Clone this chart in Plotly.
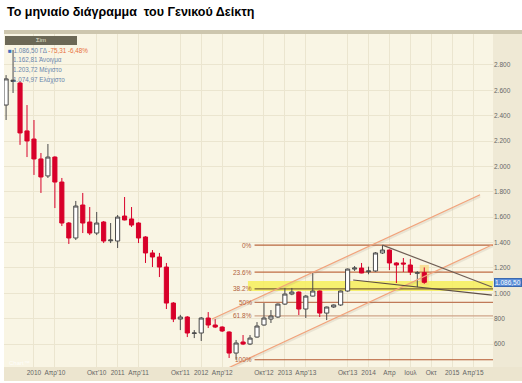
import plotly.graph_objects as go

# ---------------- data ----------------
months = ["2009-09", "2009-10", "2009-11", "2009-12",
          "2010-01", "2010-02", "2010-03", "2010-04", "2010-05", "2010-06",
          "2010-07", "2010-08", "2010-09", "2010-10", "2010-11", "2010-12",
          "2011-01", "2011-02", "2011-03", "2011-04", "2011-05", "2011-06",
          "2011-07", "2011-08", "2011-09", "2011-10", "2011-11", "2011-12",
          "2012-01", "2012-02", "2012-03", "2012-04", "2012-05", "2012-06",
          "2012-07", "2012-08", "2012-09", "2012-10", "2012-11", "2012-12",
          "2013-01", "2013-02", "2013-03", "2013-04", "2013-05", "2013-06",
          "2013-07", "2013-08", "2013-09", "2013-10", "2013-11", "2013-12",
          "2014-01", "2014-02", "2014-03", "2014-04", "2014-05", "2014-06",
          "2014-07", "2014-08", "2014-09"]
opens = [2484, 2670, 2658, 2280,
         2216, 2059, 1925, 2074, 1877, 1554,
         1436, 1696, 1562, 1475, 1562, 1414,
         1412, 1609, 1586, 1554, 1444, 1318,
         1286, 1207, 923, 797, 813, 684,
         687, 805, 750, 734, 695, 529,
         616, 600, 655, 750, 797, 813,
         915, 994, 1010, 876, 978, 1018,
         844, 892, 908, 1018, 1191, 1199,
         1170, 1176, 1318, 1341, 1239, 1239,
         1223, 1158, 1162.81]
highs = [2720, 2918, 2672, 2484,
         2366, 2106, 2177, 2080, 1909, 1562,
         1728, 1791, 1680, 1641, 1570, 1554,
         1617, 1759, 1680, 1560, 1450, 1341,
         1318, 1239, 931, 830, 820, 710,
         813, 852, 797, 740, 700, 632,
         671, 671, 773, 923, 868, 920,
         1042, 1042, 1015, 986, 1160, 1022,
         895, 912, 1022, 1195, 1215, 1239,
         1210, 1325, 1380, 1345, 1245, 1278,
         1270, 1175, 1203.72]
lows = [2366, 2579, 2170, 2074,
        1933, 1791, 1909, 1672, 1530, 1389,
        1420, 1475, 1459, 1459, 1396, 1396,
        1357, 1575, 1523, 1396, 1239, 1207,
        1128, 876, 773, 710, 655, 647,
        624, 726, 726, 695, 490, 476,
        592, 592, 650, 745, 766, 805,
        908, 985, 829, 805, 975, 813,
        789, 885, 900, 1012, 1176, 1158,
        1150, 1170, 1310, 1183, 1081, 1168,
        1144, 1049, 1074.97]
closes = [2690, 2680, 2264, 2201,
          2059, 1917, 2074, 1877, 1554, 1436,
          1688, 1554, 1475, 1554, 1412, 1420,
          1601, 1578, 1538, 1436, 1318, 1286,
          1207, 923, 797, 813, 687, 687,
          805, 750, 734, 703, 529, 608,
          600, 647, 742, 805, 821, 915,
          994, 1010, 876, 978, 1018, 844,
          892, 908, 1018, 1191, 1199, 1160,
          1176, 1318, 1341, 1239, 1223, 1231,
          1168, 1161.81, 1086.50]

tick_months = ["2010-01", "2010-04", "2010-10", "2011-01", "2011-04", "2011-10",
               "2012-01", "2012-04", "2012-10", "2013-01", "2013-04", "2013-10",
               "2014-01", "2014-04", "2014-07", "2014-10", "2015-01", "2015-04"]
tick_labels = ["2010", "Απρ'10", "Οκτ'10", "2011", "Απρ'11", "Οκτ'11",
               "2012", "Απρ'12", "Οκτ'12", "2013", "Απρ'13", "Οκτ'13",
               "2014", "Απρ", "Ιουλ", "Οκτ", "2015", "Απρ'15"]
price_ticks = [600, 800, 1000, 1200, 1400, 1600, 1800, 2000, 2200, 2400, 2600, 2800]

fib_ratios = [0.0, 0.236, 0.382, 0.5, 0.618, 1.0]
fib_labels = ["0%", "23.6%", "38.2%", "50%", "61.8%", "100%"]
fib_colors = ["#b8673f", "#bf6d45", "#7a6238", "#c07a58", "#cfa58a", "#b4572f"]
fib_swing_low_month = "2012-06"
fib_swing_high_month = "2014-03"
fib_start_month = "2012-08"

# drawing-tool anchors (month, value)
channel_upper_months = ["2012-02", "2015-05"]
channel_upper_values = [797, 1777]
channel_lower_months = ["2012-05", "2015-07"]
channel_lower_values = [415, 1385]
resist_months = ["2014-03", "2015-07"]
resist_values = [1380, 1050]
support_months = ["2013-11", "2015-07"]
support_values = [1105, 986]
zone_values = [1018, 1097]
zone_start_month = "2012-08"

instrument = "ΓΔ"
header_name = "Σim"


def midx(m):
    y, mo = map(int, m.split("-"))
    return (y - 2009) * 12 + (mo - 9)


def gr(v, dec=2):
    s = f"{v:,.{dec}f}"
    return s.replace(",", "#").replace(".", ",").replace("#", ".")


x = [midx(m) for m in months]
n = len(x)
X0, X1 = -0.3, 69.86
Y0, Y1 = 419, 3044

i_lo = months.index(fib_swing_low_month)
i_hi = months.index(fib_swing_high_month)
fib_low = min(lows[i_lo:i_hi + 1])
fib_high = max(highs[i_lo:i_hi + 1])
fib_levels = [fib_high - r * (fib_high - fib_low) for r in fib_ratios]

fig = go.Figure()

fig.add_trace(go.Candlestick(
    x=x, open=opens, high=highs, low=lows, close=closes,
    increasing=dict(fillcolor="#ffffff", line=dict(color="#4a4a4a", width=1)),
    decreasing=dict(fillcolor="#d8002a", line=dict(color="#d8002a", width=1)),
    whiskerwidth=0, showlegend=False, hoverinfo="skip"))


def add_line(ms, vs, color, width, offs=(0, 0), shadow=False):
    xs = [midx(m) + o for m, o in zip(ms, offs)]
    if shadow:
        fig.add_trace(go.Scatter(x=xs, y=[v - 12 for v in vs], mode="lines",
                                 line=dict(color="rgba(120,110,90,0.12)", width=2.5),
                                 showlegend=False, hoverinfo="skip"))
    fig.add_trace(go.Scatter(x=xs, y=vs, mode="lines", line=dict(color=color, width=width),
                             showlegend=False, hoverinfo="skip"))


add_line(channel_upper_months, channel_upper_values, "#f2a27a", 1.2, (0.55, 0), shadow=True)
add_line(channel_lower_months, channel_lower_values, "#f2a27a", 1.2, (0, -0.14), shadow=True)
add_line(resist_months, resist_values, "#6f5e55", 1.2, (0, -0.3))
add_line(support_months, support_values, "#5e4f45", 1.2, (-0.2, -0.3))

shapes = []
# yellow zone
shapes.append(dict(type="rect", xref="x", yref="y", layer="between",
                   x0=midx(zone_start_month) - 0.3, x1=X1, y0=zone_values[0], y1=zone_values[1],
                   fillcolor="rgba(246,238,90,0.85)", line=dict(width=0)))
# highlight of the current candle
shapes.append(dict(type="rect", xref="x", yref="y", layer="between",
                   x0=x[-1] - 0.65, x1=x[-1] + 0.65, y0=lows[-1] - 10, y1=highs[-1] + 20,
                   fillcolor="rgba(248,214,120,0.7)", line=dict(width=0)))
fib_x0 = midx(fib_start_month) + 0.65
for lvl, col in zip(fib_levels, fib_colors):
    shapes.append(dict(type="line", xref="x", yref="y", layer="between",
                       x0=fib_x0, x1=X1, y0=lvl, y1=lvl, line=dict(color=col, width=1.2)))

# frame decorations (paper coords)
W = 489.0
H = 333.0
def px(p):
    return (p - 4) / W
def py(p):
    return (367 - p) / H

shapes.append(dict(type="rect", xref="paper", yref="paper", layer="below",
                   x0=1, x1=px(522), y0=py(381), y1=py(34), fillcolor="#efe9d5", line=dict(width=0)))
shapes.append(dict(type="rect", xref="paper", yref="paper", layer="below",
                   x0=0, x1=px(522), y0=py(381), y1=0, fillcolor="#ece5cf", line=dict(width=0)))
shapes.append(dict(type="rect", xref="paper", yref="paper", layer="below",
                   x0=0, x1=px(522), y0=1, y1=py(30), fillcolor="#cdc6ae", line=dict(width=0)))
shapes.append(dict(type="rect", xref="paper", yref="paper", layer="above",
                   x0=px(5), x1=px(77), y0=py(45), y1=py(36), fillcolor="#6c6856", line=dict(width=0)))

annotations = []
for lvl, lab in zip(fib_levels, fib_labels):
    annotations.append(dict(x=fib_x0 - 0.1, y=lvl, xref="x", yref="y", text=lab,
                            xanchor="right", yanchor="middle", showarrow=False,
                            font=dict(size=6.5, color="#b0603a")))

annotations.append(dict(x=1, y=closes[-1], xref="paper", yref="y", text=gr(closes[-1]),
                        xanchor="left", yanchor="middle", showarrow=False, xshift=1,
                        bgcolor="#5a8ed8", bordercolor="#3b69b0", borderwidth=1, borderpad=0,
                        font=dict(size=6.5, color="#ffffff")))

chg = closes[-1] - closes[-2]
pct = chg / closes[-2] * 100
leg_font = dict(size=6.3, color="#6a86ad")
annotations.append(dict(x=px(6), y=py(50), xref="paper", yref="paper", xanchor="left", yanchor="middle",
                        showarrow=False, font=leg_font,
                        text=f'<span style="color:#3f6fc0">■</span> {gr(closes[-1])} {instrument} '
                             f'<span style="color:#e8703c">{gr(chg)} {gr(pct)}%</span>'))
for yy, val, name in [(60, opens[-1], "Άνοιγμα"), (70, highs[-1], "Μέγιστο"), (80, lows[-1], "Ελάχιστο")]:
    annotations.append(dict(x=px(11), y=py(yy), xref="paper", yref="paper", xanchor="left",
                            yanchor="middle", showarrow=False, font=leg_font,
                            text=f"{gr(val)} {name}"))
annotations.append(dict(x=px(41), y=py(40.5), xref="paper", yref="paper", xanchor="center",
                        yanchor="middle", showarrow=False, text=header_name,
                        font=dict(size=6, color="#e4e0d2")))
annotations.append(dict(x=px(7), y=py(363), xref="paper", yref="paper", xanchor="left",
                        yanchor="middle", showarrow=False, text="Chart™",
                        font=dict(size=6, color="rgba(255,255,255,0.8)")))

fig.update_layout(
    width=522, height=383,
    margin=dict(l=4, r=29, t=34, b=16),
    paper_bgcolor="#ffffff",
    plot_bgcolor="#f9f5e4",
    separators=",.",
    boxgap=0.15,
    font=dict(family="Liberation Sans Narrow, Liberation Sans, Arial", size=7, color="#666666"),
    title=dict(text="<b>Το μηνιαίο διάγραμμα  του Γενικού Δείκτη</b>",
               x=7 / 522, xanchor="left", y=1 - 12 / 383, yanchor="middle",
               font=dict(family="Liberation Sans, Arial", size=12.5, color="#000000")),
    showlegend=False,
    shapes=shapes,
    annotations=annotations,
)
fig.update_xaxes(range=[X0, X1], rangeslider=dict(visible=False), automargin=False,
                 tickvals=[midx(m) for m in tick_months], ticktext=tick_labels,
                 showgrid=True, gridcolor="#ebe5cf", gridwidth=1, zeroline=False,
                 showline=False, ticks="", tickfont=dict(size=6.5, color="#666666"))
fig.update_yaxes(range=[Y0, Y1], side="right", tickvals=price_ticks, tickformat=",d",
                 automargin=False,
                 showgrid=True, gridcolor="#ebe5cf", gridwidth=1, zeroline=False,
                 showline=False, ticks="", tickfont=dict(size=6.5, color="#666666"))

fig.write_html("out.html", config={"displayModeBar": False},
               post_script="document.body.style.margin='0';document.body.style.overflow='hidden';")
